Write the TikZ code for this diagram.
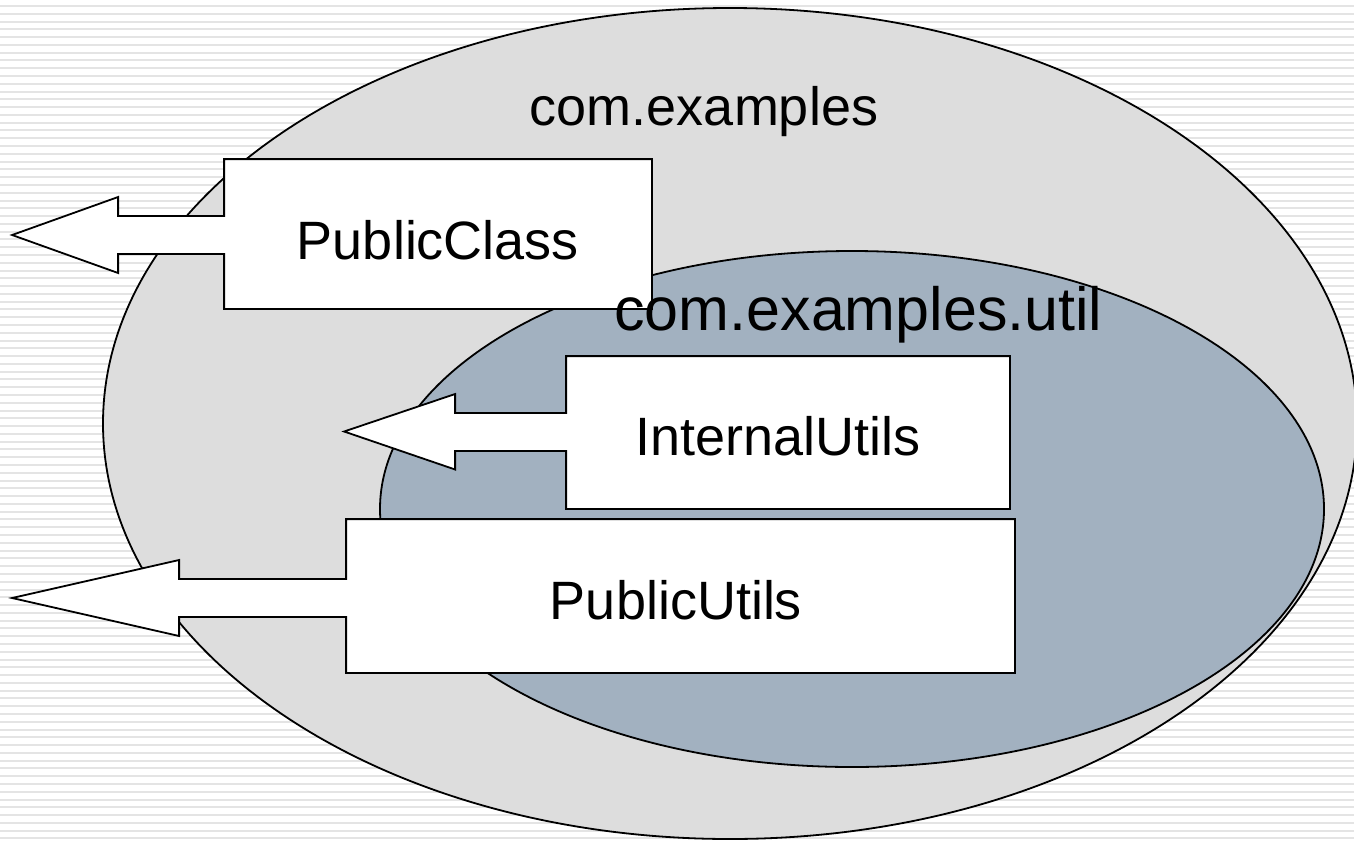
\documentclass[tikz,border=0pt]{standalone}
\usepackage{fontspec}
\setmainfont{Liberation Sans}
\usetikzlibrary{shapes.geometric,calc}
\definecolor{outerfill}{RGB}{221,221,221}
\definecolor{innerfill}{RGB}{162,177,192}
\definecolor{stripecol}{RGB}{228,228,228}
\begin{document}
\begin{tikzpicture}[x=1pt,y=-1pt,line width=1.8pt,
  lbl/.style={font=\fontsize{54}{60}\selectfont, inner sep=0pt},
  pkg/.style={ellipse, draw=black, inner sep=0pt, line width=1.8pt},
  boxshape/.style={rectangle, inner sep=0pt, draw=none},
  blockarrow/.style={draw=black, fill=white, line join=miter}]
\fill[white] (0,0) rectangle (1354,841);
\useasboundingbox (0,0) rectangle (1354,841);
\foreach \i in {0,...,107}
  \draw[stripecol, line width=2pt] (0,{6+7.78*\i}) -- (1354,{6+7.78*\i});

% packages
\node[pkg, fill=outerfill, minimum width=1254pt, minimum height=831pt] (outer) at (730,423.5) {};
\node[pkg, fill=innerfill, minimum width=944pt, minimum height=516pt] (inner) at (852,509) {};
\node[lbl] (outerlbl) at (704,112) {com.examples};

% PublicClass
\node[boxshape, minimum width=426pt, minimum height=148pt] (pc) at (438,234) {};
\draw[blockarrow] (pc.north west) -- (pc.north east) -- (pc.south east) -- (pc.south west)
  -- ($(pc.west)+(0,20)$) -- ($(pc.west)+(-106,20)$) -- ($(pc.west)+(-106,39)$)
  -- ($(pc.west)+(-212,1)$) -- ($(pc.west)+(-106,-37)$) -- ($(pc.west)+(-106,-18)$)
  -- ($(pc.west)+(0,-18)$) -- cycle;
\node[lbl] (pctext) at (438,240) {PublicClass};

% InternalUtils
\node[boxshape, minimum width=442pt, minimum height=151pt] (iu) at (788,432.5) {};
\draw[blockarrow] (iu.north west) -- (iu.north east) -- (iu.south east) -- (iu.south west)
  -- ($(iu.west)+(0,18.5)$) -- ($(iu.west)+(-111,18.5)$) -- ($(iu.west)+(-111,37)$)
  -- ($(iu.west)+(-222,-1)$) -- ($(iu.west)+(-111,-38.5)$) -- ($(iu.west)+(-111,-19.5)$)
  -- ($(iu.west)+(0,-19.5)$) -- cycle;
\node[lbl] (iutext) at (778,436) {InternalUtils};

% PublicUtils
\node[boxshape, minimum width=667pt, minimum height=152pt] (pu) at (680.5,596) {};
\draw[blockarrow] (pu.north west) -- (pu.north east) -- (pu.south east) -- (pu.south west)
  -- ($(pu.west)+(0,21)$) -- ($(pu.west)+(-167,21)$) -- ($(pu.west)+(-167,40)$)
  -- ($(pu.west)+(-334,2)$) -- ($(pu.west)+(-167,-36)$) -- ($(pu.west)+(-167,-17)$)
  -- ($(pu.west)+(0,-17)$) -- cycle;
\node[lbl] (putext) at (676,600) {PublicUtils};

\node[lbl, font=\fontsize{61}{67}\selectfont, anchor=base] (innerlbl) at (858.5,330) {com.examples.util};
\end{tikzpicture}
\end{document}
